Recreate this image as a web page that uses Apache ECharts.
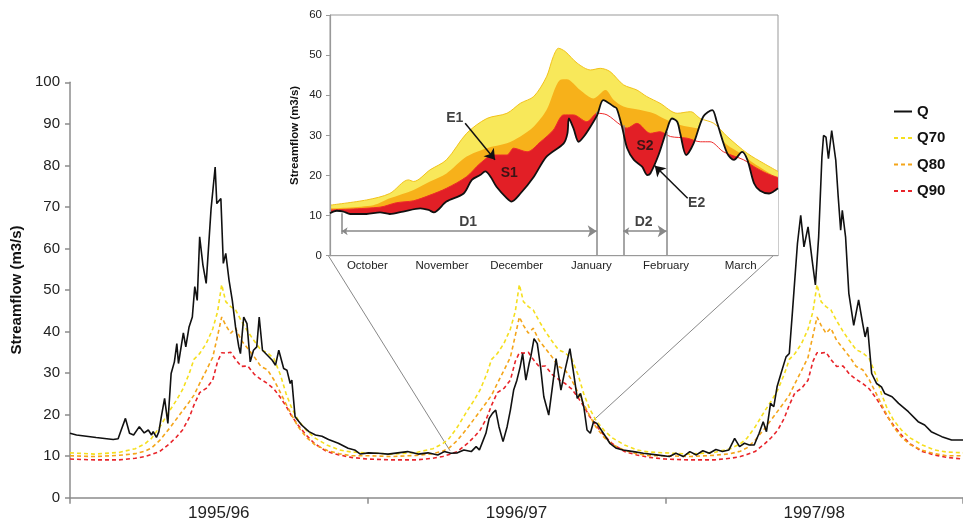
<!DOCTYPE html>
<html>
<head>
<meta charset="utf-8">
<script src="https://cdn.jsdelivr.net/npm/echarts@6/dist/echarts.min.js"></script>
<style>
html,body{margin:0;padding:0;background:#fff;}
#chart{width:963px;height:523px;}
</style>
</head>
<body>
<div id="chart"></div>
<script>
// ---------- DATA ----------
const yearLabels = ['1995/96', '1996/97', '1997/98'];
const monthLabels = ['October', 'November', 'December', 'January', 'February', 'March'];

// Seasonal threshold curves (day of hydrological year), same every year
const thrDoy = [0,30,60,80,92,100,110,122,130,138,146,152,159,167,175,181,186,191,197,203,210,218,226,234,242,250,258,265,272,280,290,300,315,330,345,365];
const q70Season = [10.8,10.5,10.9,11.8,13.0,14.3,17.0,20.9,23.3,26.0,29.8,33.3,34.7,37.1,40.6,44.8,51.3,47.2,46.0,45.2,42.6,40.0,37.7,35.6,34.9,33.5,29.6,25.0,21.5,18.6,16.2,14.4,12.7,11.5,11.0,10.8];
const q80Season = [10.1,9.9,10.2,10.6,11.2,12.0,13.8,16.7,18.8,20.9,23.0,24.7,27.5,30.6,33.8,39.0,43.5,41.5,39.6,40.8,37.9,35.9,33.9,31.6,30.8,28.4,25.3,22.5,19.8,17.0,14.5,12.8,11.4,10.6,10.1,10.1];
const q90Season = [9.3,9.1,9.1,9.5,9.9,10.4,11.1,13.0,14.5,16.3,19.2,22.3,25.3,26.3,28.3,32.8,34.9,34.8,35.0,33.3,31.6,31.7,29.7,28.5,27.5,26.2,24.1,22.0,19.6,17.4,15.0,13.0,11.1,10.3,9.7,9.3];

// Daily streamflow Q, [day of year, m3/s]
const q1995 = [[0,15.5],[8,15.1],[20,14.8],[32,14.5],[45,14.2],[53,14.0],[59,14.2],[63,16.4],[68,19.1],[73,15.5],[78,15.1],[85,17.1],[91,15.6],[96,16.3],[100,15.1],[102,15.9],[106,14.5],[109,15.9],[112,19.5],[116,23.9],[120,17.9],[124,29.9],[128,32.7],[131,37.1],[133,32.3],[139,39.7],[142,36.3],[146,41.1],[150,43.5],[153,50.8],[156,47.5],[159,62.8],[163,56.0],[167,51.6],[173,69.6],[175,70.0],[178,79.6],[180,70.8],[185,72.0],[188,56.4],[191,58.8],[195,52.4],[199,47.5],[203,41.1],[207,36.3],[209,34.7],[213,43.5],[217,41.9],[221,32.7],[225,35.5],[229,36.3],[232,43.5],[236,35.5],[242,34.3],[248,33.1],[252,31.9],[256,35.5],[262,31.1],[266,30.7],[270,27.5],[272,28.3],[276,19.5],[284,17.5],[293,15.9],[301,15.1],[309,14.8],[317,14.0],[329,13.1],[341,11.9],[349,11.5],[356,10.5]];
const q1996 = [[1,10.8],[13,10.7],[25,10.5],[37,10.8],[49,11.1],[62,10.5],[74,10.8],[86,10.3],[94,11.1],[102,10.7],[110,10.8],[118,11.5],[127,11.1],[133,12.3],[137,11.5],[141,13.5],[145,15.5],[149,19.1],[153,20.3],[157,21.1],[161,17.1],[166,13.5],[171,17.1],[175,21.1],[179,25.9],[183,28.3],[187,31.5],[190,34.7],[194,28.3],[198,32.3],[200,33.9],[204,38.3],[208,37.1],[212,31.5],[216,24.3],[222,19.9],[226,25.9],[231,33.5],[237,25.9],[242,30.7],[248,35.9],[252,30.7],[257,23.9],[261,25.1],[265,21.9],[269,16.3],[273,15.5],[277,18.3],[281,17.9],[289,15.5],[297,13.1],[305,11.9],[313,11.5],[326,11.1],[338,10.7],[354,10.3]];
const q1997 = [[5,9.9],[13,10.7],[22,9.9],[30,11.1],[38,10.3],[46,11.3],[54,10.7],[62,11.6],[70,11.1],[78,11.5],[85,14.3],[91,12.3],[97,13.1],[103,12.7],[109,12.7],[115,15.5],[120,18.3],[124,15.9],[129,22.7],[133,21.9],[137,26.7],[143,30.7],[148,33.9],[152,34.7],[156,45.1],[162,61.2],[166,68.0],[170,60.4],[175,65.2],[180,57.2],[184,51.2],[188,62.8],[192,82.0],[194,87.2],[197,86.8],[200,81.6],[204,88.4],[209,81.2],[212,72.4],[215,64.4],[217,69.2],[221,62.8],[225,49.2],[231,41.5],[237,47.6],[242,41.9],[245,38.7],[248,41.1],[253,29.9],[259,27.5],[265,26.7],[269,25.1],[278,24.3],[286,22.7],[298,20.7],[310,18.3],[318,17.5],[326,15.9],[339,14.7],[351,13.9],[365,13.9]];

// Inset (Oct 1996 - Mar 1997), x in months from 1 October
const insetQ = [[0,10.6],[0.09,11.2],[0.18,11.0],[0.27,10.4],[0.49,10.4],[0.67,10.8],[0.80,10.4],[0.98,11.0],[1.21,11.8],[1.32,11.4],[1.39,10.8],[1.56,13.5],[1.79,15.5],[1.90,18.9],[2.01,20.1],[2.08,21.0],[2.15,19.7],[2.23,17.2],[2.37,14.3],[2.43,13.5],[2.55,15.5],[2.73,19.7],[2.90,24.7],[3.13,28.0],[3.18,30.5],[3.20,34.2],[3.26,31.8],[3.33,28.4],[3.40,29.7],[3.49,32.2],[3.58,35.1],[3.66,38.8],[3.80,37.2],[3.84,36.7],[3.91,32.2],[3.98,26.8],[4.07,23.9],[4.18,22.2],[4.25,20.1],[4.29,20.5],[4.40,25.1],[4.51,31.3],[4.58,34.2],[4.65,33.4],[4.69,30.5],[4.77,25.1],[4.87,28.0],[5.00,34.7],[5.12,36.3],[5.18,33.4],[5.32,25.5],[5.41,23.9],[5.52,25.9],[5.59,23.9],[5.68,18.0],[5.76,16.2],[5.88,15.5],[5.94,16.0],[6.00,16.8]];
const insetQ70 = [[0,12.6],[0.49,13.9],[0.80,15.5],[1.05,18.9],[1.12,18.5],[1.34,21.4],[1.56,23.9],[1.83,30.5],[2.10,34.2],[2.37,35.5],[2.55,38.0],[2.73,39.7],[2.90,44.6],[2.99,49.6],[3.06,51.7],[3.15,50.9],[3.31,48.0],[3.49,46.3],[3.62,46.7],[3.75,45.9],[3.93,42.6],[4.11,41.3],[4.24,39.7],[4.42,38.0],[4.65,35.5],[4.83,35.9],[4.96,34.2],[5.14,33.0],[5.32,29.7],[5.59,25.5],[5.81,23.0],[6.00,21.0]];
const insetQ80 = [[0,11.8],[0.58,12.6],[0.80,14.3],[1.12,16.4],[1.34,18.5],[1.56,20.5],[1.83,24.7],[2.10,26.8],[2.37,28.0],[2.55,29.7],[2.73,32.2],[2.90,36.3],[3.08,43.8],[3.17,44.0],[3.35,41.3],[3.53,39.2],[3.69,41.3],[3.80,38.8],[3.93,37.2],[4.16,36.3],[4.33,35.5],[4.47,34.2],[4.69,32.6],[4.91,31.8],[5.14,30.9],[5.32,27.6],[5.50,25.5],[5.68,23.0],[6.00,19.3]];
const insetQ90 = [[0,11.4],[0.67,12.1],[0.89,13.2],[1.12,13.7],[1.34,15.1],[1.56,16.8],[1.83,19.7],[2.01,23.0],[2.19,25.1],[2.37,25.1],[2.46,26.8],[2.64,25.9],[2.82,28.4],[2.99,31.3],[3.13,35.1],[3.26,35.1],[3.44,33.4],[3.58,35.5],[3.71,35.1],[3.89,32.6],[3.98,31.8],[4.11,33.0],[4.29,30.5],[4.42,30.9],[4.56,29.7],[4.78,29.3],[4.96,28.4],[5.09,28.4],[5.27,25.9],[5.54,23.9],[5.68,22.2],[5.85,20.5],[6.00,19.5]];

// Inset annotations (months, m3/s)
const deficitMarks = [[0.156, 5.4, 10.6], [3.572, 0, 35.9], [3.928, 0, 32.5], [4.509, 0, 30.9]]; // x, yFrom, yTo
const durationArrows = [[0.156, 3.572, 6.1], [3.928, 4.509, 6.1]];
const pointerArrows = [[1.81, 33.0, 2.21, 23.9], [4.79, 14.3, 4.35, 22.4]];
const annotLabels = [['E1', 1.67, 34.2], ['S1', 2.40, 20.7], ['S2', 4.22, 27.2], ['E2', 4.91, 13.0], ['D1', 1.85, 8.4], ['D2', 4.20, 8.4]];
// Zoom connector lines in main-chart units [day, m3/s]
const connectors = [[[317, 58.2], [466, 11.3]], [[862, 58.2], [640, 18.3]]];

// ---------- BUILD ----------
const DAYS = 365;
function seasonSeries(vals) {
  const out = [];
  for (let y = 0; y < 3; y++) thrDoy.forEach((d, i) => out.push([y * DAYS + d, vals[i]]));
  return out;
}
const qMain = [].concat(
  q1995.map(p => [p[0], p[1]]),
  q1996.map(p => [DAYS + p[0], p[1]]),
  q1997.map(p => [2 * DAYS + p[0], p[1]])
);

const FONT = 'Liberation Sans, Arial, sans-serif';
const AXC = '#8c8c8c';
const YEL = '#F8E85A', ORA = '#F7B11A', RED = '#E21F26';
const DASH_Y = '#F5DF1E', DASH_O = '#F4A51A', DASH_R = '#E8242A';

const chart = echarts.init(document.getElementById('chart'), null, {renderer: 'canvas'});

const insetBase = {xAxisIndex: 2, yAxisIndex: 1, symbol: 'none', smooth: 0.3, silent: true, animation: false};
const linesBase = {type: 'lines', coordinateSystem: 'cartesian2d', xAxisIndex: 2, yAxisIndex: 1, silent: true, animation: false, polyline: false};

const option = {
  animation: false,
  backgroundColor: '#fff',
  textStyle: {fontFamily: FONT},
  legend: {
    data: ['Q', 'Q70', 'Q80', 'Q90'],
    orient: 'vertical',
    left: 888, top: 99,
    itemWidth: 18, itemHeight: 14, itemGap: 11.5,
    itemStyle: {opacity: 0},
    textStyle: {fontFamily: FONT, fontSize: 15, fontWeight: 'bold', color: '#111'},
    selectedMode: false
  },
  grid: [
    {left: 70, top: 82.3, width: 899, height: 415.4},
    {left: 330, top: 15, width: 448, height: 240.7, show: true, backgroundColor: '#fff', borderColor: '#999', borderWidth: 1, z: 3}
  ],
  xAxis: [
    {type: 'value', gridIndex: 0, min: 0, max: 3 * DAYS, interval: DAYS, position: 'bottom',
      axisLine: {lineStyle: {color: AXC, width: 1.5}}, axisTick: {length: 6, lineStyle: {color: AXC, width: 1.5}},
      axisLabel: {show: false}, splitLine: {show: false}},
    {type: 'category', gridIndex: 0, data: yearLabels, boundaryGap: true, position: 'bottom',
      axisLine: {show: false}, axisTick: {show: false},
      axisLabel: {fontSize: 17, color: '#222', margin: 7, fontFamily: FONT}},
    {type: 'value', gridIndex: 1, min: 0, max: 6, show: false, position: 'bottom'},
    {type: 'category', gridIndex: 1, data: monthLabels, boundaryGap: true, z: 10, position: 'bottom',
      axisLine: {lineStyle: {color: '#999', width: 1.2}}, axisTick: {length: 5, lineStyle: {color: '#999'}},
      axisLabel: {fontSize: 11.5, color: '#222', margin: 4, fontFamily: FONT}}
  ],
  yAxis: [
    {type: 'value', gridIndex: 0, min: 0, max: 100, interval: 10,
      name: 'Streamflow (m3/s)', nameLocation: 'middle', nameGap: 41, nameRotate: 90,
      nameTextStyle: {fontSize: 15, fontWeight: 'bold', color: '#111', fontFamily: FONT},
      axisLine: {show: true, lineStyle: {color: AXC, width: 1.5}}, axisTick: {show: true, length: 5, lineStyle: {color: AXC, width: 1.5}},
      axisLabel: {fontSize: 15, color: '#222', margin: 10, fontFamily: FONT}, splitLine: {show: false}},
    {type: 'value', gridIndex: 1, min: 0, max: 60, interval: 10, z: 10,
      name: 'Streamflow (m3/s)', nameLocation: 'middle', nameGap: 29, nameRotate: 90,
      nameTextStyle: {fontSize: 11.5, fontWeight: 'bold', color: '#111', fontFamily: FONT},
      axisLine: {show: true, lineStyle: {color: '#999', width: 1.2}}, axisTick: {show: true, length: 4, lineStyle: {color: '#999'}},
      axisLabel: {fontSize: 11.5, color: '#222', margin: 8, fontFamily: FONT}, splitLine: {show: false}}
  ],
  series: [
    // connector lines
    ...connectors.map((c, i) => ({
      name: 'conn' + i, type: 'line', xAxisIndex: 0, yAxisIndex: 0, data: c, symbol: 'none', silent: true,
      lineStyle: {color: '#888', width: 1}, z: 1
    })),
    // main chart
    {name: 'Q90', type: 'line', xAxisIndex: 0, yAxisIndex: 0, data: seasonSeries(q90Season), symbol: 'none',
      lineStyle: {color: DASH_R, width: 1.6, type: [4, 3]}, itemStyle: {color: DASH_R}, z: 2},
    {name: 'Q80', type: 'line', xAxisIndex: 0, yAxisIndex: 0, data: seasonSeries(q80Season), symbol: 'none',
      lineStyle: {color: DASH_O, width: 1.6, type: [4, 3]}, itemStyle: {color: DASH_O}, z: 2},
    {name: 'Q70', type: 'line', xAxisIndex: 0, yAxisIndex: 0, data: seasonSeries(q70Season), symbol: 'none',
      lineStyle: {color: DASH_Y, width: 1.6, type: [4, 3]}, itemStyle: {color: DASH_Y}, z: 2},
    {name: 'Q', type: 'line', xAxisIndex: 0, yAxisIndex: 0, data: qMain, symbol: 'none',
      lineStyle: {color: '#111', width: 1.6}, itemStyle: {color: '#111'}, z: 3},
    // inset fills
    Object.assign({name: 'inFill70', type: 'line', data: insetQ70, lineStyle: {width: 0}, areaStyle: {color: YEL, opacity: 1}, z: 4}, insetBase),
    Object.assign({name: 'inFill80', type: 'line', data: insetQ80, lineStyle: {width: 0}, areaStyle: {color: ORA, opacity: 1}, z: 5}, insetBase),
    Object.assign({name: 'inFill90', type: 'line', data: insetQ90, lineStyle: {width: 0}, areaStyle: {color: RED, opacity: 1}, z: 6}, insetBase),
    Object.assign({name: 'inFillQ', type: 'line', data: insetQ, lineStyle: {width: 0}, areaStyle: {color: '#fff', opacity: 1}, z: 7}, insetBase),
    Object.assign({name: 'inLine70', type: 'line', data: insetQ70, lineStyle: {width: 1, color: '#F2C21A'}, z: 8}, insetBase),
    Object.assign({name: 'inLine90', type: 'line', data: insetQ90, lineStyle: {width: 1, color: '#EE2A2A'}, z: 8}, insetBase),
    // annotations
    Object.assign({name: 'marks', symbol: ['none', 'none'], lineStyle: {color: '#888', width: 1.5, opacity: 1},
      data: deficitMarks.map(d => ({coords: [[d[0], d[1]], [d[0], d[2]]]})), z: 9}, linesBase),
    Object.assign({name: 'durations', symbol: ['arrow', 'arrow'], symbolSize: [6, 9], lineStyle: {color: '#888', width: 1.5, opacity: 1},
      data: durationArrows.map(d => ({coords: [[d[0], d[2]], [d[1], d[2]]]})), z: 9}, linesBase),
    Object.assign({name: 'pointers', symbol: ['none', 'arrow'], symbolSize: [7, 10], lineStyle: {color: '#111', width: 1.5, opacity: 1},
      data: pointerArrows.map(d => ({coords: [[d[0], d[1]], [d[2], d[3]]]})), z: 11}, linesBase),
    Object.assign({name: 'inQ', type: 'line', data: insetQ, lineStyle: {width: 1.8, color: '#111'}, z: 10}, insetBase),
    {name: 'labels', type: 'scatter', xAxisIndex: 2, yAxisIndex: 1, symbolSize: 0, silent: true, z: 11,
      data: annotLabels.map(a => ({name: a[0], value: [a[1], a[2]]})),
      label: {show: true, position: 'inside', formatter: p => p.name, fontSize: 14, fontWeight: 'bold', color: '#111', fontFamily: FONT}}
  ]
};
chart.setOption(option);
</script>
</body>
</html>
